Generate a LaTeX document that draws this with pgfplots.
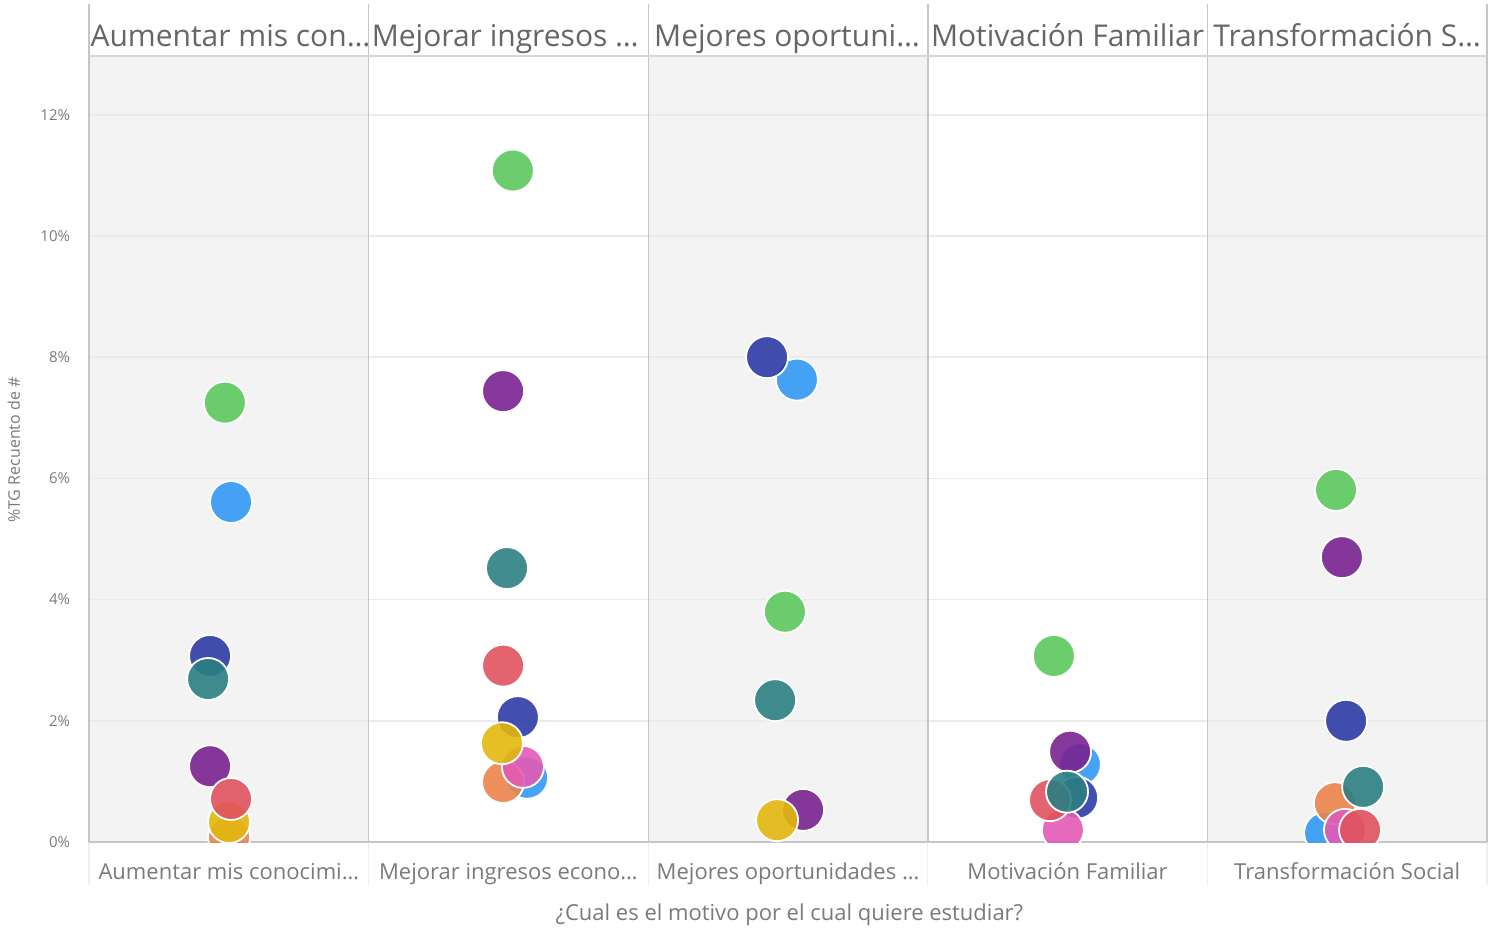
\documentclass[border=0pt]{standalone}
\usepackage{fontspec}
\setmainfont{Open Sans}
\usepackage{pgfplots}
\usepackage{pgfplotstable}
\pgfplotsset{compat=1.18}
\definecolor{cGreen}{HTML}{5CC85D}
\definecolor{cLBlue}{HTML}{3399F5}
\definecolor{cDBlue}{HTML}{2D3CA6}
\definecolor{cTeal}{HTML}{2B7F83}
\definecolor{cPurple}{HTML}{7A2390}
\definecolor{cRed}{HTML}{E0525E}
\definecolor{cYellow}{HTML}{E3B70D}
\definecolor{cOrange}{HTML}{EC834C}
\definecolor{cPink}{HTML}{E35AB5}
\definecolor{panelGray}{HTML}{F3F3F3}
\definecolor{gridC}{HTML}{EAEAEA}
\definecolor{sepC}{HTML}{C6C6C6}
\definecolor{sepL}{HTML}{EFEFEF}
\definecolor{txtHead}{HTML}{666666}
\definecolor{txtTick}{HTML}{7A7A7A}

% x = panel index + jitter, y = percent
\pgfplotstableread{
x y
0.508 5.61
1.567 1.06
2.532 7.63
3.544 1.28
4.421 0.15
}\lblue
\pgfplotstableread{
x y
0.501 0.08
1.481 0.99
4.456 0.64
}\orange
\pgfplotstableread{
x y
0.433 3.07
1.534 2.06
2.425 8.00
3.534 0.73
4.496 2.00
}\dblue
\pgfplotstableread{
x y
0.433 1.25
1.481 7.44
2.554 0.53
3.509 1.49
4.481 4.70
}\purple
\pgfplotstableread{
x y
1.552 1.24
3.483 0.20
4.492 0.20
}\pink
\pgfplotstableread{
x y
0.501 0.33
1.477 1.63
2.461 0.36
}\yellow
\pgfplotstableread{
x y
0.508 0.71
1.481 2.91
3.437 0.69
4.546 0.20
}\red
\pgfplotstableread{
x y
0.426 2.69
1.495 4.52
2.454 2.34
3.498 0.83
4.557 0.91
}\teal
\pgfplotstableread{
x y
0.486 7.25
1.516 11.08
2.489 3.80
3.451 3.07
4.460 5.81
}\green

\begin{document}
\begin{tikzpicture}
\begin{axis}[
  at={(0,0)}, anchor=south west,
  scale only axis, width=699pt, height=393pt,
  xmin=0, xmax=5, ymin=0, ymax=12.97,
  axis line style={draw=none},
  tick style={draw=none},
  clip mode=individual,
  clip marker paths=true,
  /pgf/number format/assume math mode=true,
  ytick={0,2,4,6,8,10,12},
  yticklabels={0\%,2\%,4\%,6\%,8\%,10\%,12\%},
  yticklabel style={font=\fontsize{7.5}{9}\selectfont, text=txtTick, anchor=east, xshift=-6pt},
  xtick={0.5,1.5,2.5,3.5,4.5},
  xticklabels={Aumentar mis conocimi…,Mejorar ingresos econo…,Mejores oportunidades …,Motivación Familiar,Transformación Social},
  xticklabel style={font=\fontsize{11}{13}\selectfont, text=txtTick, anchor=base, yshift=-18.5pt},
  xlabel={¿Cual es el motivo por el cual quiere estudiar?},
  every axis x label/.style={at={(axis description cs:0.501,0)}, anchor=base, yshift=-39pt, font=\fontsize{11}{13}\selectfont, text=txtTick},
  ylabel={\%TG Recuento de \#},
  every axis y label/.style={at={(axis description cs:0,0.4987)}, xshift=-37.5pt, rotate=90, anchor=center, font=\fontsize{8}{10}\selectfont, text=txtTick},
  scatter mark/.style={only marks, mark=*, mark size=10.5pt, mark options={draw=white, line width=0.9pt, fill opacity=0.9, draw opacity=1, fill=#1}},
]
% panel backgrounds
\fill[panelGray] (axis cs:0,0) rectangle (axis cs:1,12.97);
\fill[panelGray] (axis cs:2,0) rectangle (axis cs:3,12.97);
\fill[panelGray] (axis cs:4,0) rectangle (axis cs:5,12.97);
% grid lines
\pgfplotsinvokeforeach{2,4,6,8,10,12}{
  \draw[gridC, line width=0.8pt] (axis cs:0,#1) -- (axis cs:5,#1);
}
% separators
\pgfplotsinvokeforeach{0,1,2,3,4,5}{
  \draw[sepC, line width=0.7pt] (axis cs:#1,0) -- (axis cs:#1,13.82);
  \draw[sepL, line width=0.6pt] (axis cs:#1,0) -- (axis cs:#1,-0.71);
}
\draw[sepC!70, line width=1pt] (axis cs:0,12.97) -- (axis cs:5,12.97);
\draw[sepC, line width=0.8pt] (axis cs:0,0) -- (axis cs:5,0);
% headers
\node[anchor=base west, inner sep=0pt, font=\fontsize{15}{18}\selectfont, text=txtHead] at (axis cs:0.004,13.12) {Aumentar mis con…};
\node[anchor=base west, inner sep=0pt, font=\fontsize{15}{18}\selectfont, text=txtHead] at (axis cs:1.01,13.12) {Mejorar ingresos …};
\node[anchor=base west, inner sep=0pt, font=\fontsize{15}{18}\selectfont, text=txtHead] at (axis cs:2.02,13.12) {Mejores oportuni…};
\node[anchor=base west, inner sep=0pt, font=\fontsize{15}{18}\selectfont, text=txtHead] at (axis cs:3.01,13.12) {Motivación Familiar};
\node[anchor=base west, inner sep=0pt, font=\fontsize{15}{18}\selectfont, text=txtHead] at (axis cs:4.02,13.12) {Transformación S…};
% data
\addplot[scatter mark=cLBlue] table[x=x,y=y] {\lblue};
\addplot[scatter mark=cOrange] table[x=x,y=y] {\orange};
\addplot[scatter mark=cDBlue] table[x=x,y=y] {\dblue};
\addplot[scatter mark=cPurple] table[x=x,y=y] {\purple};
\addplot[scatter mark=cPink] table[x=x,y=y] {\pink};
\addplot[scatter mark=cYellow] table[x=x,y=y] {\yellow};
\addplot[scatter mark=cRed] table[x=x,y=y] {\red};
\addplot[scatter mark=cTeal] table[x=x,y=y] {\teal};
\addplot[scatter mark=cGreen] table[x=x,y=y] {\green};
\end{axis}
\pgfresetboundingbox
\useasboundingbox (-44.5pt,-43pt) rectangle (699.5pt,421pt);
\end{tikzpicture}
\end{document}
